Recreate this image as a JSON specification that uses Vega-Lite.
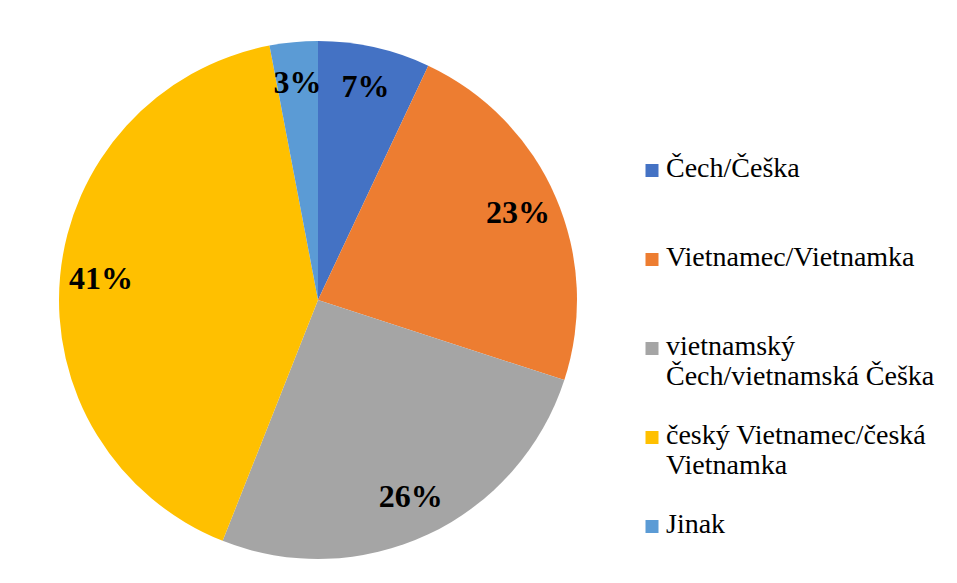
{
  "$schema": "https://vega.github.io/schema/vega-lite/v6.json",
  "autosize": {"type": "none"},
  "width": 520,
  "height": 520,
  "padding": {"left": 58, "top": 40, "right": 379, "bottom": 23},
  "background": "white",
  "config": {
    "view": {"stroke": null}
  },
  "data": {
    "values": [
      {"kategorie": "Čech/Češka", "podil": 7, "popisek": "7%", "poradi": 1},
      {"kategorie": "Vietnamec/Vietnamka", "podil": 23, "popisek": "23%", "poradi": 2},
      {"kategorie": "vietnamský\nČech/vietnamská Češka", "podil": 26, "popisek": "26%", "poradi": 3},
      {"kategorie": "český Vietnamec/česká\nVietnamka", "podil": 41, "popisek": "41%", "poradi": 4},
      {"kategorie": "Jinak", "podil": 3, "popisek": "3%", "poradi": 5}
    ]
  },
  "encoding": {
    "theta": {"field": "podil", "type": "quantitative", "stack": true},
    "order": {"field": "poradi", "type": "quantitative"}
  },
  "layer": [
    {
      "mark": {"type": "arc", "outerRadius": 259},
      "encoding": {
        "color": {
          "field": "kategorie",
          "type": "nominal",
          "sort": ["Čech/Češka", "Vietnamec/Vietnamka", "vietnamský\nČech/vietnamská Češka", "český Vietnamec/česká\nVietnamka", "Jinak"],
          "scale": {
            "domain": ["Čech/Češka", "Vietnamec/Vietnamka", "vietnamský\nČech/vietnamská Češka", "český Vietnamec/česká\nVietnamka", "Jinak"],
            "range": ["#4472C4", "#ED7D31", "#A5A5A5", "#FFC000", "#5B9BD5"]
          },
          "legend": {
            "title": null,
            "orient": "none",
            "legendX": 580,
            "legendY": 123,
            "gridAlign": "all",
            "symbolType": "M-1,-2H1V0H-1Z",
            "symbolSize": 169,
            "symbolStrokeWidth": 0,
            "labelFont": "Liberation Serif",
            "labelFontSize": 28,
            "labelBaseline": "alphabetic",
            "labelColor": "#000000",
            "labelLimit": 400,
            "labelOffset": 0,
            "labelExpr": "split(datum.label, '\\n')",
            "rowPadding": 31
          }
        }
      }
    },
    {
      "mark": {"type": "text", "radius": 218, "font": "Liberation Serif", "fontSize": 32, "fontWeight": "bold", "color": "#000000"},
      "encoding": {
        "text": {"field": "popisek", "type": "nominal"}
      }
    }
  ]
}
